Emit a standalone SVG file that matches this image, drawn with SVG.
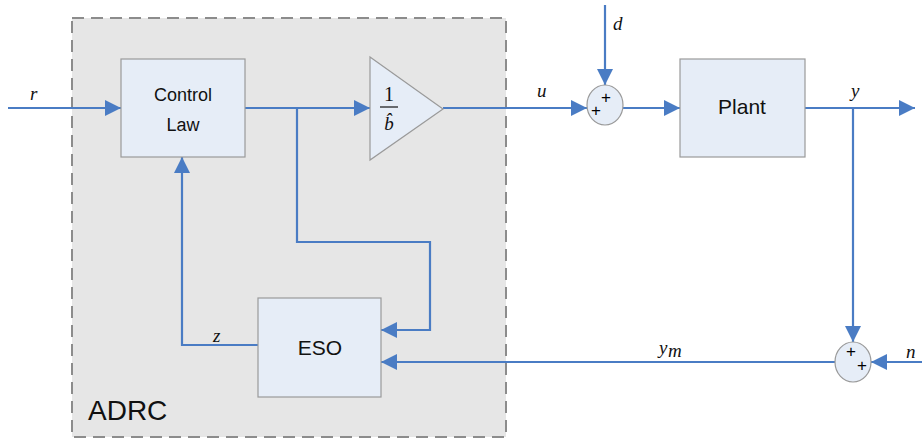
<svg xmlns="http://www.w3.org/2000/svg" width="923" height="441" viewBox="0 0 923 441">
<style>
.blk{fill:#e6edf7;stroke:#9a9a9a;stroke-width:1.2}
.ln{fill:none;stroke:#4a7cc4;stroke-width:2.2}
.lab{font-family:"Liberation Serif",serif;font-style:italic;font-size:19px;fill:#111}
.sf{font-family:"Liberation Sans",Arial,sans-serif;fill:#111}
.pl{font-family:"Liberation Sans",Arial,sans-serif;font-size:17px;fill:#000}
</style>
<defs>
<marker id="ah2" viewBox="0 0 10 10" refX="10" refY="5" markerWidth="20" markerHeight="16" markerUnits="userSpaceOnUse" orient="auto"><path d="M0,0 L10,5 L0,10 z" fill="#4a7cc4"/></marker>
</defs>
<rect width="923" height="441" fill="#ffffff"/>
<g id="adrc">
<rect x="72" y="18" width="434" height="419" fill="#e6e6e6" stroke="#8c8c8c" stroke-width="2" stroke-dasharray="12,7"/>
<text class="sf" x="88" y="420" font-size="28">ADRC</text>
</g>
<g id="connectors">
<path class="ln" d="M8,108 H121" marker-end="url(#ah2)"/>
<path class="ln" d="M245,108 H370" marker-end="url(#ah2)"/>
<path class="ln" d="M297,108 V242 H430 V330 H381" marker-end="url(#ah2)"/>
<path class="ln" d="M443,108 H587" marker-end="url(#ah2)"/>
<path class="ln" d="M605,5 V85" marker-end="url(#ah2)"/>
<path class="ln" d="M623,108 H680" marker-end="url(#ah2)"/>
<path class="ln" d="M805,108 H915" marker-end="url(#ah2)"/>
<path class="ln" d="M853,108 V342" marker-end="url(#ah2)"/>
<path class="ln" d="M922,362 H871" marker-end="url(#ah2)"/>
<path class="ln" d="M835,362 H381" marker-end="url(#ah2)"/>
<path class="ln" d="M258,345 H182 V157" marker-end="url(#ah2)"/>
</g>
<g id="control-law">
<rect class="blk" x="121" y="59" width="124" height="98"/>
<text class="sf" x="183" y="101" font-size="18" text-anchor="middle">Control</text>
<text class="sf" x="183" y="131" font-size="18" text-anchor="middle">Law</text>
</g>
<g id="gain">
<path class="blk" d="M370,57 L443,109 L370,160 z"/>
<text x="389" y="101" text-anchor="middle" style="font-family:'Liberation Serif',serif;font-size:20px;fill:#111">1</text>
<line x1="380" y1="107" x2="398" y2="107" stroke="#111" stroke-width="1.2"/>
<text class="lab" x="389" y="130" text-anchor="middle" font-size="20">b̂</text>
</g>
<g id="sum1">
<ellipse cx="605" cy="105" rx="18" ry="20" fill="#e6edf7" stroke="#9a9a9a" stroke-width="1.2"/>
<text class="pl" x="606" y="103" text-anchor="middle">+</text>
<text class="pl" x="596" y="116" text-anchor="middle">+</text>
</g>
<g id="plant">
<rect class="blk" x="680" y="59" width="125" height="98"/>
<text class="sf" x="742" y="114" font-size="21" text-anchor="middle">Plant</text>
</g>
<g id="sum2">
<ellipse cx="853" cy="362" rx="18" ry="20" fill="#e6edf7" stroke="#9a9a9a" stroke-width="1.2"/>
<text class="pl" x="851" y="357" text-anchor="middle">+</text>
<text class="pl" x="862" y="371" text-anchor="middle">+</text>
</g>
<g id="eso">
<rect class="blk" x="258" y="298" width="123" height="99"/>
<text class="sf" x="320" y="355" font-size="21" text-anchor="middle">ESO</text>
</g>
<g id="labels">
<text class="lab" x="30" y="100">r</text>
<text class="lab" x="537" y="97">u</text>
<text class="lab" x="613" y="30">d</text>
<text class="lab" x="851" y="97">y</text>
<text class="lab" x="659" y="354">y</text>
<text class="lab" x="668" y="357" font-size="11">m</text>
<text class="lab" x="213" y="342">z</text>
<text class="lab" x="906" y="358">n</text>
</g>
</svg>
